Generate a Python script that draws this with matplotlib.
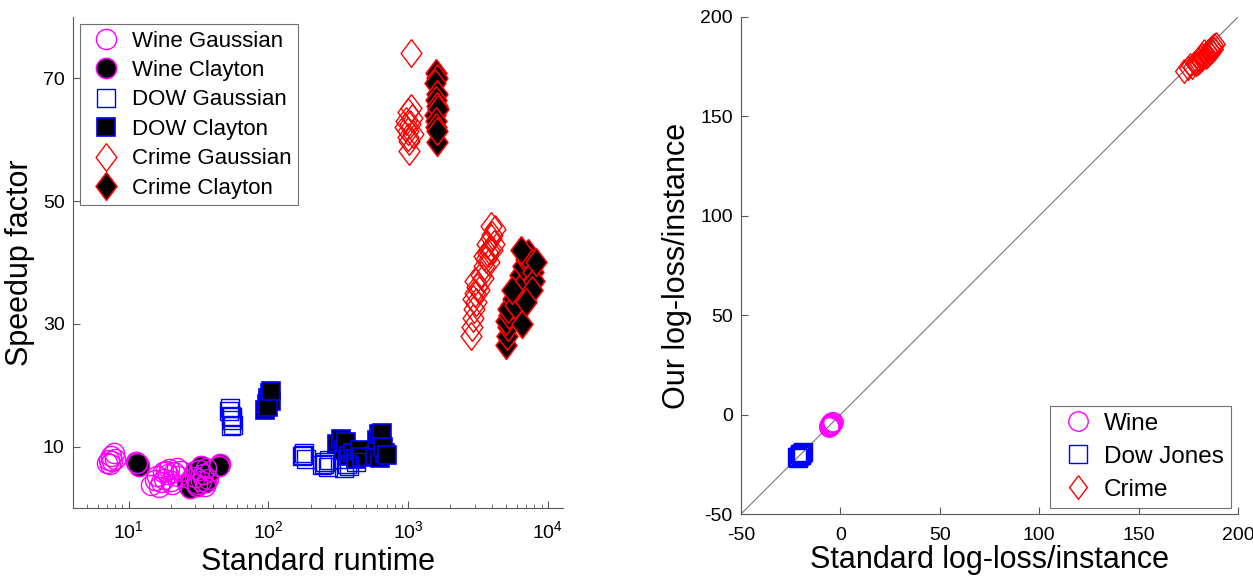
import matplotlib
matplotlib.use("Agg")
import matplotlib.pyplot as plt
from matplotlib.ticker import LogLocator, FixedLocator

plt.rcParams["font.family"] = ["Liberation Sans", "DejaVu Sans"]
plt.rcParams["mathtext.fontset"] = "custom"
plt.rcParams["mathtext.rm"] = "Liberation Sans"
plt.rcParams["mathtext.it"] = "Liberation Sans"
plt.rcParams["axes.unicode_minus"] = False

# ---------------------------------------------------------------------------
# Data: left panel (runtime vs speedup)
# ---------------------------------------------------------------------------
wine_gauss_x = [7.0, 7.2, 7.5, 7.8, 7.4, 8.0, 7.6,
                14.5, 15.5, 16.0, 17.0, 17.5, 18.0, 19.0, 19.5, 20.0, 21.0,
                22.0, 22.5, 16.5, 18.5, 23.5, 20.5,
                30.0, 32.0, 33.0, 34.0, 36.0, 37.0, 31.0, 35.0]
wine_gauss_y = [7.3, 7.9, 8.5, 8.9, 7.1, 8.0, 7.6,
                3.8, 4.5, 5.2, 4.2, 5.8, 4.8, 5.5, 6.3, 4.4, 5.9,
                6.5, 5.2, 3.5, 6.1, 6.0, 3.9,
                5.0, 6.2, 4.4, 5.5, 6.5, 4.8, 3.9, 3.6]

wine_clay_x = [11.3, 11.6, 11.9, 11.5,
               26.0, 27.5, 28.0, 30.0, 31.0, 33.0, 34.0, 36.0, 38.0, 45.0, 44.0]
wine_clay_y = [7.5, 7.1, 6.8, 7.3,
               4.0, 3.3, 4.8, 6.0, 3.6, 6.8, 5.0, 4.3, 6.0, 7.2, 6.8]

dow_gauss_x = [52, 53, 54, 55, 56, 55, 54,
               175, 180, 185, 178,
               240, 255, 265, 250, 270,
               350, 365, 340, 380, 420]
dow_gauss_y = [15.8, 16.3, 15.0, 14.3, 13.6, 14.8, 13.3,
               8.4, 9.0, 8.0, 8.7,
               7.0, 7.5, 6.6, 7.2, 7.8,
               6.5, 7.2, 8.0, 6.8, 7.5]

dow_clay_x = [95, 98, 100, 102, 105, 100, 104,
              310, 330, 345, 360, 380, 400, 420, 450, 470,
              580, 600, 620, 650, 630, 680, 660, 700]
dow_clay_y = [16.0, 17.0, 18.0, 18.8, 17.5, 16.5, 19.0,
              10.5, 11.2, 9.5, 10.8, 8.5, 9.0, 8.0, 9.5, 8.3,
              8.5, 11.0, 12.0, 12.3, 8.1, 9.0, 10.0, 8.6]

crime_gauss_x = [1050, 1010, 990, 1000, 1030, 960, 1070, 1000, 1040, 1090, 950, 1020,
                 2800, 2850, 2900, 2950, 2900, 3000, 3050, 3100, 3000, 3200, 3300,
                 3400, 3500, 3600, 3700, 3650, 3800, 3900, 4000, 4100, 4200, 3800,
                 4000, 3500, 3900]
crime_gauss_y = [74.1, 58.2, 60.5, 61.5, 62.5, 63.0, 63.5, 64.5, 65.2, 61.0, 62.0, 59.8,
                 28.0, 29.5, 31.0, 32.5, 34.0, 35.0, 33.5, 36.0, 37.0, 35.5, 38.0,
                 37.5, 39.5, 40.5, 41.5, 43.0, 42.0, 44.0, 44.5, 43.0, 45.5, 40.0,
                 42.0, 41.0, 46.0]

crime_clay_x = [1580, 1600, 1560, 1620, 1580, 1600, 1550, 1640, 1590, 1570, 1600, 1610,
                5000, 5100, 5200, 5000, 5300, 5400, 5200, 5600, 5800, 6000, 6200,
                6500, 6300, 6800, 6600, 7000, 7200, 7500, 7800, 8000, 7700, 8200,
                7000, 6400, 5500]
crime_clay_y = [70.8, 70.0, 69.2, 67.5, 66.5, 65.5, 64.0, 65.0, 63.0, 62.0, 59.7, 61.5,
                26.5, 28.0, 29.5, 30.5, 31.5, 33.0, 32.5, 34.0, 33.0, 35.5, 36.5,
                30.0, 38.0, 37.0, 39.5, 40.5, 41.5, 40.0, 38.5, 37.0, 35.5, 40.0,
                33.5, 42.0, 35.5]

# ---------------------------------------------------------------------------
# Data: right panel (standard vs our log-loss)
# ---------------------------------------------------------------------------
wine_std = [-5.5, -4.5, -6.0, -4.0, -5.0, -3.8, -5.8, -4.8]
wine_our = [-5.0, -4.0, -6.0, -3.5, -4.5, -3.8, -5.5, -5.2]

dow_std = [-21.0, -20.0, -19.5, -21.5, -20.5, -19.0, -22.0, -20.0]
dow_our = [-21.0, -20.5, -19.5, -22.0, -20.0, -19.0, -21.5, -19.8]

crime_std = [173, 175, 176, 177, 178, 179, 180, 180, 181, 182, 182, 183, 184,
             184, 185, 185, 186, 186, 187, 187, 188, 188, 189, 183, 181]
crime_our = [173, 174.5, 176, 175, 177, 176.5, 179, 177, 178, 181, 179, 180, 182,
             180, 183, 181, 184, 182, 185, 183, 186, 184, 186.5, 183, 180]

MAGENTA = "#ff00ff"
BLUE = "#0000ff"
RED = "#ff0000"
SPINE = "0.35"

# MATLAB-like diamond: taller than wide
DIAMOND = [(0, 1), (0.75, 0), (0, -1), (-0.75, 0), (0, 1)]


def style_axes(ax):
    for side in ("top", "right"):
        ax.spines[side].set_visible(False)
    for side in ("left", "bottom"):
        ax.spines[side].set_color(SPINE)
        ax.spines[side].set_linewidth(0.8)
    ax.tick_params(which="both", direction="in", color=SPINE, labelsize=14,
                   labelcolor="black")
    ax.tick_params(which="major", length=5)
    ax.tick_params(which="minor", length=3)
    ax.tick_params(axis="x", which="both", pad=9)
    ax.tick_params(axis="y", which="both", pad=6)


fig = plt.figure(figsize=(12.53, 5.78), dpi=100, facecolor="white")

# ---------------------------------------------------------------------------
# Left panel
# ---------------------------------------------------------------------------
ax1 = fig.add_axes([0.0583, 0.1211, 0.391, 0.8495])
ax1.set_xscale("log")

h_wg, = ax1.plot(wine_gauss_x, wine_gauss_y, ls="none", marker="o", ms=14.5,
                 mfc="none", mec=MAGENTA, mew=1.0, zorder=4)
h_wc, = ax1.plot(wine_clay_x, wine_clay_y, ls="none", marker="o", ms=14.5,
                 mfc="black", mec=MAGENTA, mew=1.2, zorder=3)
h_dg, = ax1.plot(dow_gauss_x, dow_gauss_y, ls="none", marker="s", ms=13,
                 mfc="none", mec=BLUE, mew=1.0, zorder=4)
h_dc, = ax1.plot(dow_clay_x, dow_clay_y, ls="none", marker="s", ms=13,
                 mfc="black", mec=BLUE, mew=1.2, zorder=3)
h_cg, = ax1.plot(crime_gauss_x, crime_gauss_y, ls="none", marker=DIAMOND, ms=20,
                 mfc="none", mec=RED, mew=1.0, zorder=4)
h_cc, = ax1.plot(crime_clay_x, crime_clay_y, ls="none", marker=DIAMOND, ms=20,
                 mfc="black", mec=RED, mew=1.2, zorder=3)

ax1.set_xlim(4, 12800)
ax1.set_ylim(0, 80)
ax1.xaxis.set_major_locator(LogLocator(base=10, numticks=10))
ax1.xaxis.set_minor_locator(LogLocator(base=10, subs=range(2, 10), numticks=20))
ax1.yaxis.set_major_locator(FixedLocator([10, 30, 50, 70]))
style_axes(ax1)
ax1.set_xlabel("Standard runtime", fontsize=22, labelpad=3)
ax1.set_ylabel("Speedup factor", fontsize=22, labelpad=6)

leg1 = ax1.legend([h_wg, h_wc, h_dg, h_dc, h_cg, h_cc],
                  ["Wine Gaussian", "Wine Clayton", "DOW Gaussian", "DOW Clayton",
                   "Crime Gaussian", "Crime Clayton"],
                  loc="upper left", bbox_to_anchor=(0.014, 0.986), borderaxespad=0,
                  fontsize=16, frameon=True, fancybox=False, edgecolor="0.3",
                  handlelength=1.74, handletextpad=0.3, labelspacing=0.38,
                  borderpad=0.3, numpoints=1)
leg1.get_frame().set_linewidth(0.8)

# ---------------------------------------------------------------------------
# Right panel
# ---------------------------------------------------------------------------
ax2 = fig.add_axes([0.5914, 0.1107, 0.3967, 0.86])
ax2.plot([-50, 200], [-50, 200], color="0.45", lw=0.8, zorder=1)
h_w, = ax2.plot(wine_std, wine_our, ls="none", marker="o", ms=14,
                mfc="none", mec=MAGENTA, mew=1.0, zorder=3)
h_d, = ax2.plot(dow_std, dow_our, ls="none", marker="s", ms=12.5,
                mfc="none", mec=BLUE, mew=1.0, zorder=3)
h_c, = ax2.plot(crime_std, crime_our, ls="none", marker=DIAMOND, ms=17,
                mfc="none", mec=RED, mew=1.0, zorder=3)

ax2.set_xlim(-50, 200)
ax2.set_ylim(-50, 200)
ax2.xaxis.set_major_locator(FixedLocator(range(-50, 201, 50)))
ax2.yaxis.set_major_locator(FixedLocator(range(-50, 201, 50)))
style_axes(ax2)
ax2.set_xlabel("Standard log-loss/instance", fontsize=22, labelpad=1)
ax2.set_ylabel("Our log-loss/instance", fontsize=22, labelpad=6)

leg2 = ax2.legend([h_w, h_d, h_c], ["Wine", "Dow Jones", "Crime"],
                  loc="lower right", bbox_to_anchor=(0.986, 0.012), borderaxespad=0,
                  fontsize=17.5, frameon=True, fancybox=False, edgecolor="0.3",
                  handlelength=1.66, handletextpad=0.24, labelspacing=0.45,
                  borderpad=0.3, numpoints=1)
leg2.get_frame().set_linewidth(0.8)

fig.savefig("out.png", dpi=100, facecolor="white")
